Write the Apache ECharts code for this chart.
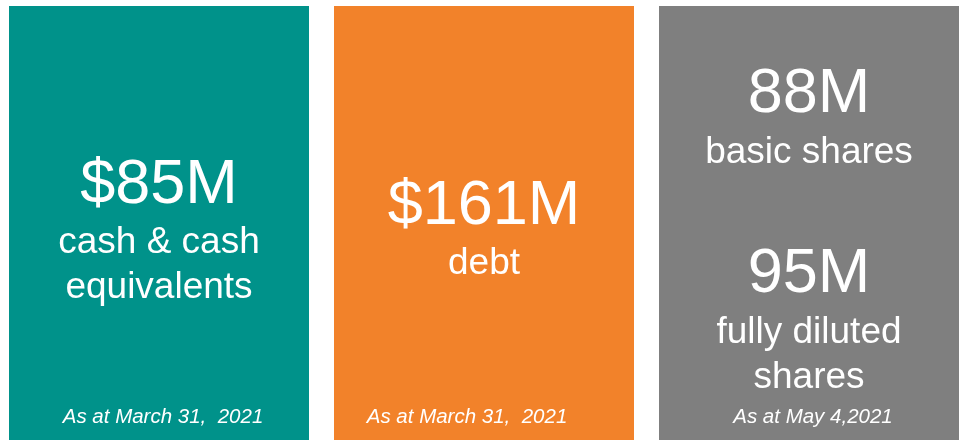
<!DOCTYPE html>
<html>
<head>
<meta charset="utf-8">
<script src="https://cdn.jsdelivr.net/npm/echarts@6/dist/echarts.min.js"></script>
<style>html,body{margin:0;padding:0;background:#fff;}#main{width:959px;height:440px;}</style>
</head>
<body>
<div id="main"></div>
<script>
// Data
const panelColors = ['#00928A', '#F2822A', '#7F7F7F'];
const panelValues = [['$85M'], ['$161M'], ['88M', '95M']];
const panelLabels = [[['cash & cash', 'equivalents']], [['debt']], [['basic shares'], ['fully diluted', 'shares']]];
const panelNotes = ['As at March 31,  2021', 'As at March 31,  2021', 'As at May 4,2021'];

// Layout (positions only)
const panelBoxes = [[9, 6, 300, 434], [334, 6, 300, 434], [659, 6, 300, 434]];
const valueY = [[186], [207], [95, 275]];
const labelY = [[[243, 288]], [[264]], [[153], [333, 378]]];
const noteX = [163, 467, 813];
const noteY = 417;
const FONT = '"Liberation Sans", Arial, sans-serif';

const elements = [];
panelBoxes.forEach((b, i) => {
  elements.push({type: 'rect', shape: {x: b[0], y: b[1], width: b[2], height: b[3]}, style: {fill: panelColors[i]}});
  const cx = b[0] + b[2] / 2;
  panelValues[i].forEach((v, j) => {
    elements.push({type: 'text', x: cx, y: valueY[i][j], style: {text: v, fill: '#fff', font: '63px ' + FONT, textAlign: 'center', textVerticalAlign: 'middle'}});
    panelLabels[i][j].forEach((line, k) => {
      elements.push({type: 'text', x: cx, y: labelY[i][j][k], style: {text: line, fill: '#fff', font: '37px ' + FONT, textAlign: 'center', textVerticalAlign: 'middle'}});
    });
  });
  elements.push({type: 'text', x: noteX[i], y: noteY, style: {text: panelNotes[i], fill: '#fff', font: 'italic 20.5px ' + FONT, textAlign: 'center', textVerticalAlign: 'middle'}});
});

const chart = echarts.init(document.getElementById('main'), null, {renderer: 'canvas'});
chart.setOption({animation: false, backgroundColor: '#fff', graphic: {elements: elements}});
</script>
</body>
</html>
